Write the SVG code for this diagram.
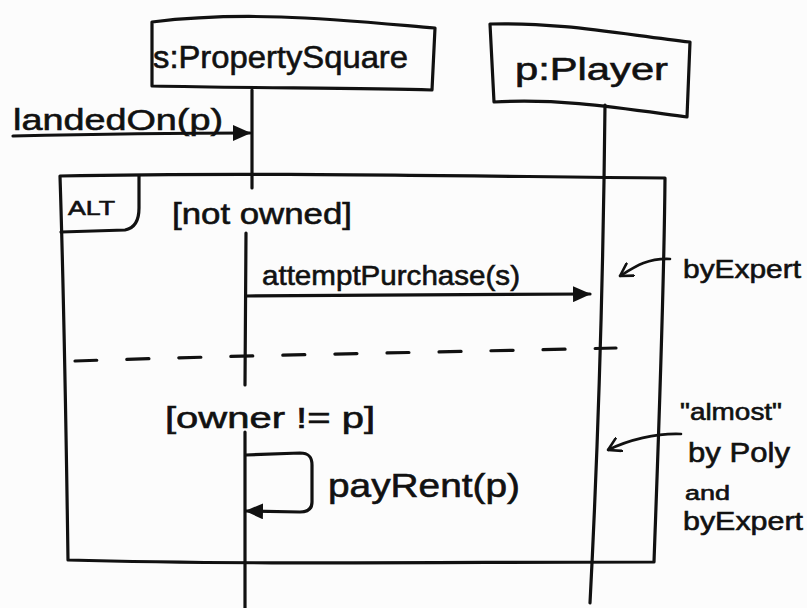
<svg xmlns="http://www.w3.org/2000/svg" width="807" height="608" viewBox="0 0 807 608">
<style>
.ln{fill:none;stroke:#111;stroke-width:3.2;stroke-linecap:round;stroke-linejoin:round}
.thin{fill:none;stroke:#111;stroke-width:2.6;stroke-linecap:round;stroke-linejoin:round}
.t{font-family:"Liberation Sans","DejaVu Sans",sans-serif;fill:#111;stroke:#111;stroke-width:0.6}
</style>
<defs>
<marker id="fill" viewBox="0 0 18 16" refX="17" refY="8" markerWidth="18" markerHeight="16" orient="auto" markerUnits="userSpaceOnUse">
<path d="M0,0 L18,8 L0,16 Z" fill="#111"/>
</marker>
<marker id="open" viewBox="0 0 14 16" refX="13" refY="8" markerWidth="14" markerHeight="16" orient="auto" markerUnits="userSpaceOnUse">
<path d="M1,1 L13,8 L1,15" fill="none" stroke="#111" stroke-width="2.6" stroke-linecap="round" stroke-linejoin="round"/>
</marker>
</defs>
<rect width="807" height="608" fill="#fcfcfc"/>

<g id="propertySquare">
<path class="ln" d="M152,22 C250,10 340,20 435,28 L432,90 C360,88 250,88 152,86 Z"/>
<text class="t" x="153" y="68" font-size="32" textLength="255" lengthAdjust="spacingAndGlyphs">s:PropertySquare</text>
</g>
<g id="player">
<path class="ln" d="M490,24 C560,22 620,34 690,42 L687,117 C620,108 560,98 494,102 Z"/>
<text class="t" x="515" y="80" font-size="32" textLength="153" lengthAdjust="spacingAndGlyphs">p:Player</text>
</g>

<g id="lifelines">
<path class="ln" d="M252,90 L252,188"/>
<path class="ln" d="M246,233 L245,385"/>
<path class="ln" d="M245,432 L245,608"/>
<path class="ln" d="M605,105 C603,300 598,450 590,603"/>
</g>

<g id="altFrame">
<path class="ln" d="M60,176 C250,172 450,176 665,178 C664,300 658,450 654,562 C450,562 250,565 68,560 C66,420 64,300 60,176 Z"/>
<path class="ln" d="M61,232 L125,230 C136,228 139,218 139,208 L139,176"/>
<text class="t" x="68" y="215" font-size="20" textLength="47" lengthAdjust="spacingAndGlyphs">ALT</text>
<text class="t" x="172" y="224" font-size="30" textLength="180" lengthAdjust="spacingAndGlyphs">[not owned]</text>
<path class="ln" d="M75,361 C250,355 450,352 616,348" stroke-dasharray="22,30"/>
<text class="t" x="165" y="428" font-size="30" textLength="210" lengthAdjust="spacingAndGlyphs">[owner != p]</text>
</g>

<g id="connectors">
<path class="ln" d="M13,136 C100,134 180,133 250,133" marker-end="url(#fill)"/>
<text class="t" x="13" y="130" font-size="30" textLength="210" lengthAdjust="spacingAndGlyphs">landedOn(p)</text>
<path class="ln" d="M246,296 C360,295 480,295 590,294" marker-end="url(#fill)"/>
<text class="t" x="262" y="285" font-size="28" textLength="258" lengthAdjust="spacingAndGlyphs">attemptPurchase(s)</text>
<path class="ln" d="M246,455 L300,453 C310,453 312,458 312,465 L312,502 C312,509 308,512 300,512 L246,511" marker-end="url(#fill)"/>
<text class="t" x="328" y="497" font-size="34" textLength="192" lengthAdjust="spacingAndGlyphs">payRent(p)</text>
</g>

<g id="notes">
<path class="thin" d="M670,259 C648,258 636,266 620,276" marker-end="url(#open)"/>
<text class="t" x="683" y="278" font-size="26" textLength="118" lengthAdjust="spacingAndGlyphs">byExpert</text>
<path class="thin" d="M681,434 C656,433 628,440 608,450" marker-end="url(#open)"/>
<text class="t" x="680" y="420" font-size="24" textLength="102" lengthAdjust="spacingAndGlyphs">"almost"</text>
<text class="t" x="688" y="462" font-size="28" textLength="102" lengthAdjust="spacingAndGlyphs">by Poly</text>
<text class="t" x="685" y="500" font-size="20" textLength="45" lengthAdjust="spacingAndGlyphs">and</text>
<text class="t" x="683" y="530" font-size="26" textLength="120" lengthAdjust="spacingAndGlyphs">byExpert</text>
</g>
</svg>
